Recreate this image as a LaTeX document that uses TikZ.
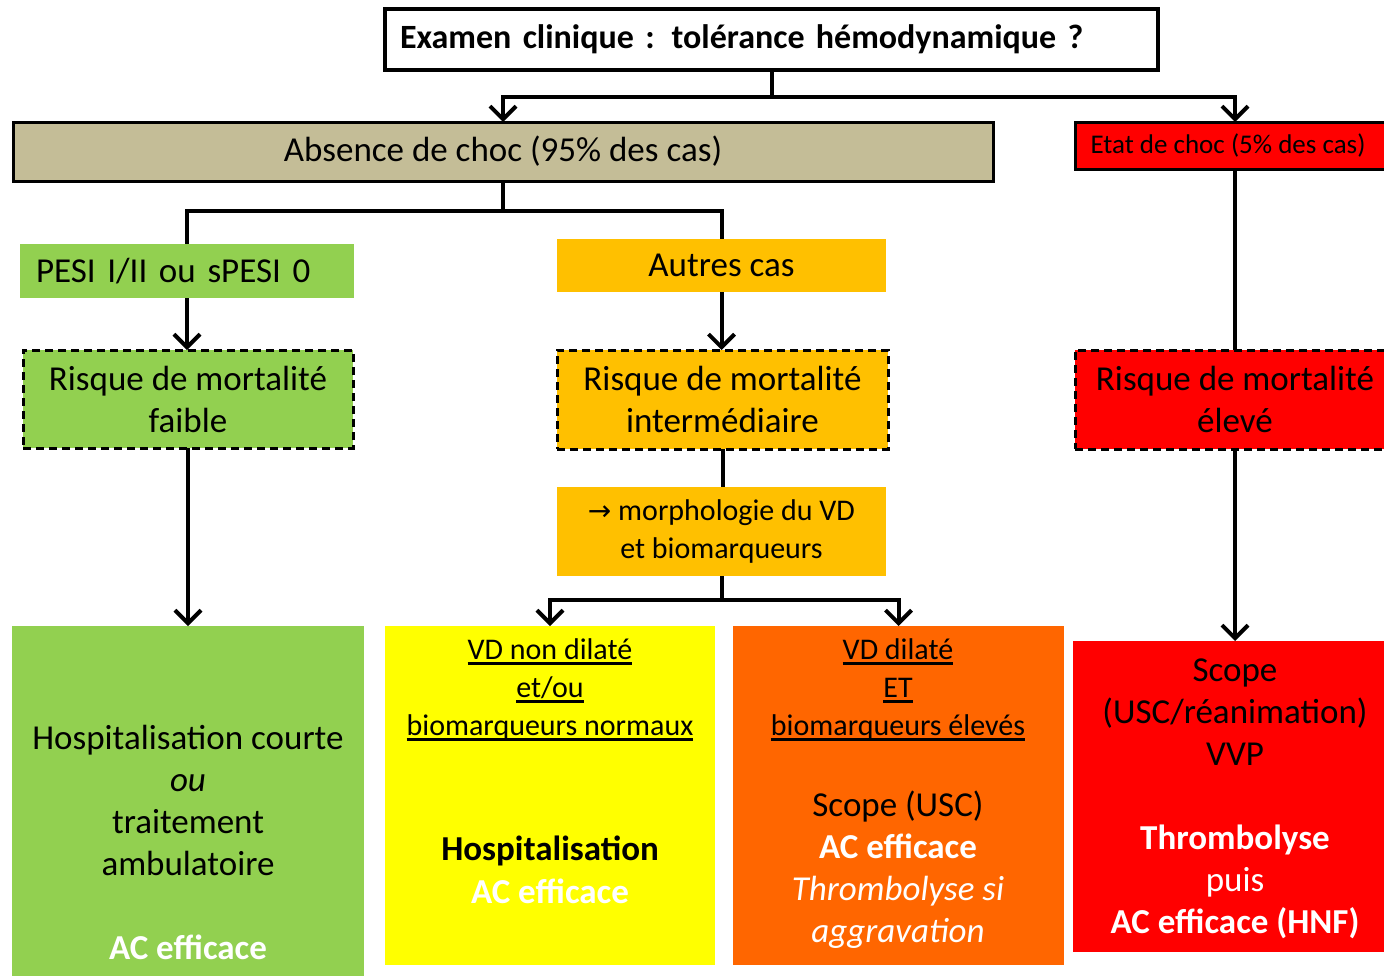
\documentclass[tikz,border=0pt]{standalone}
\usepackage{fontspec}
\setmainfont{Carlito}
\newfontfamily\dejavu{DejaVu Sans}
\usetikzlibrary{arrows.meta}
\definecolor{tanc}{HTML}{C4BD97}
\definecolor{greenc}{HTML}{92D050}
\definecolor{goldc}{HTML}{FFC000}
\definecolor{yellowc}{HTML}{FFFF00}
\definecolor{orangec}{HTML}{FF6600}
\definecolor{redc}{HTML}{FF0000}
\newcommand{\thul}[1]{\setbox0\hbox{#1}\leavevmode\rlap{\rule[-5pt]{\wd0}{2.6pt}}\box0}
\begin{document}
\begin{tikzpicture}[x=1pt,y=-1pt,
  box/.style={rectangle, inner sep=0pt, outer sep=0pt, anchor=north west, align=center, font=\fontsize{35}{42}\selectfont},
  txt/.style={align=center, inner sep=0pt, font=\fontsize{35}{42}\selectfont},
  undl/.style={align=center, inner sep=0pt, font=\fontsize{30}{38}\selectfont},
  conn/.style={line width=4pt, draw=black},
  arr/.style={conn, -{Straight Barb[length=13pt,width=26pt]}},
  dashbox/.style={draw=black, line width=3pt, dash pattern=on 8pt off 5pt},
]
\useasboundingbox (0,0) rectangle (1384,975);
\clip (0,0) rectangle (1384,975);

% top
\node[box, draw, line width=4pt, fill=white, minimum width=773pt, minimum height=61pt,
      text width=743pt, inner xsep=15pt, align=left, font=\fontsize{34}{42}\selectfont\bfseries]
      (exam) at (385,9) {Examen clinique : tolérance hémodynamique\ ?};

\node[box, draw, line width=3pt, fill=tanc, minimum width=980pt, minimum height=59pt]
      (absence) at (13,122) {Absence de choc (95\% des cas)};
\node[box, draw, line width=3pt, fill=redc, minimum width=320pt, minimum height=47pt,
      font=\fontsize{27}{30}\selectfont]
      (etat) at (1075,122) {Etat de choc (5\% des cas)\hspace*{14pt}};

% left column
\node[box, fill=greenc, minimum width=334pt, minimum height=54pt, text width=302pt,
      inner xsep=16pt, align=left] (pesi) at (20,244) {PESI I/II ou sPESI 0};
\node[box, dashbox, fill=greenc, minimum width=330pt, minimum height=98pt]
      (faible) at (23,350) {Risque de mortalité\\faible};
\node[box, fill=greenc, minimum width=352pt, minimum height=360pt] (hosp) at (12,626) {};

% middle column
\node[box, fill=goldc, minimum width=329pt, minimum height=53pt] (autres) at (557,239) {Autres cas};
\node[box, dashbox, fill=goldc, minimum width=331pt, minimum height=99pt]
      (inter) at (557,350) {Risque de mortalité\\intermédiaire};
\node[box, fill=goldc, minimum width=329pt, minimum height=89pt,
      font=\fontsize{30}{38}\selectfont] (morph) at (557,487) {{\dejavu\fontsize{28}{38}\selectfont →} morphologie du VD\\et biomarqueurs};
\node[box, fill=yellowc, minimum width=330pt, minimum height=339pt] (yel) at (385,626) {};
\node[box, fill=orangec, minimum width=331pt, minimum height=339pt] (ora) at (733,626) {};

% right column
\node[box, dashbox, fill=redc, minimum width=320pt, minimum height=99pt]
      (eleve) at (1075,350) {Risque de mortalité\\élevé};
\node[box, fill=redc, minimum width=324pt, minimum height=311pt] (scope) at (1073,641) {};

% texts in big boxes
\node[txt] (hospA) at (188,800) {Hospitalisation courte\\\textit{ou}\\traitement\\ambulatoire};
\node[txt, text=white, font=\fontsize{35}{42}\selectfont\bfseries] (hospB) at (188,947) {AC efficace};

\node[undl] (yelA) at (550,690) {\thul{VD non dilaté}\\\thul{et/ou}\\\thul{biomarqueurs normaux}};
\node[txt, font=\fontsize{35}{43}\selectfont\bfseries] (yelB) at (550,870) {Hospitalisation\\\textcolor{white}{AC efficace}};

\node[undl] (oraA) at (898,690) {\thul{VD dilaté}\\\thul{ET}\\\thul{biomarqueurs élevés}};
\node[txt] (oraB) at (898,870) {Scope (USC)\\\textcolor{white}{\bfseries AC efficace}\\\textcolor{white}{\itshape Thrombolyse si}\\\textcolor{white}{\itshape aggravation}};

\node[txt] (scA) at (1235,712) {Scope\\(USC/réanimation)\\VVP};
\node[txt, text=white] (scB) at (1235,882) {\bfseries Thrombolyse\\puis\\\bfseries AC efficace (HNF)};

% connectors
\draw[conn] (exam.south) -- (exam.south |- 0,97) coordinate (j1);
\draw[arr] (j1) -| (absence.north);
\draw[arr] (j1) -| (etat.north);

\draw[conn] (absence.south) -- (absence.south |- 0,211) coordinate (j2);
\draw[conn] (j2) -| (pesi.north);
\draw[conn] (j2) -| (autres.north);

\draw[arr] (pesi.south) -- (pesi.south |- faible.north);
\draw[arr] (faible.south) -- (faible.south |- hosp.north);

\draw[arr] (autres.south) -- (autres.south |- inter.north);
\draw[conn] (inter.south) -- (inter.south |- morph.north);
\draw[conn] (morph.south) -- (morph.south |- 0,600) coordinate (j3);
\draw[arr] (j3) -| (yel.north);
\draw[arr] (j3) -| (ora.north);

\draw[conn] (etat.south) -- (eleve.north);
\draw[arr] (eleve.south) -- (scope.north);
\end{tikzpicture}
\end{document}
